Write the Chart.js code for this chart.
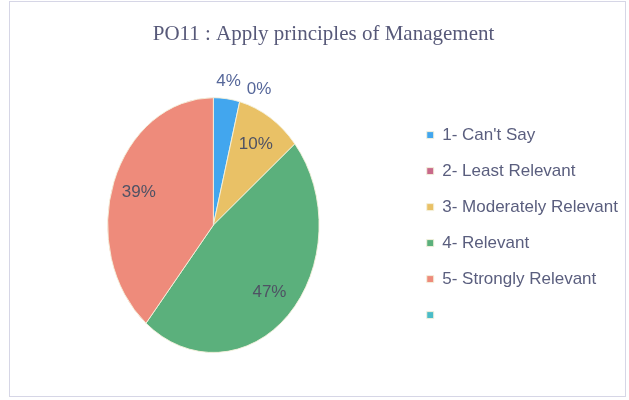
<!DOCTYPE html>
<html>
<head>
<meta charset="utf-8">
<script src="https://cdn.jsdelivr.net/npm/chart.js@4"></script>
<style>
    html, body { margin: 0; padding: 0; background: #ffffff; }
    #wrap { position: relative; width: 629px; height: 400px; }
    #frame {
        position: absolute; left: 9px; top: 1px; width: 615px; height: 394px;
        border: 1px solid #d6d6e6; pointer-events: none;
    }
</style>
</head>
<body>
<div id="wrap">
    <canvas id="poChart"></canvas>
    <div id="frame"></div>
</div>
<script>
// Данные диаграммы
const categories = ["1- Can't Say", "2- Least Relevant", "3- Moderately Relevant", "4- Relevant", "5- Strongly Relevant", ""];
const percentValues = [4, 0, 10, 47, 39, 0];
const sliceColors = ['#42a6ee', '#c8698a', '#e9c166', '#5bb07c', '#ee8b7b', '#4abcc8'];

const chartTitle = 'PO11 : Apply principles of Management';

// Круг в оригинале вытянут по вертикали (эллипс)
const pieScaleX = 0.83;

// Растягиваем пирог в эллипс
const ellipsePlugin = {
    id: 'ellipse',
    beforeDatasetsDraw(chart) {
        const arc = chart.getDatasetMeta(0).data[0];
        const ctx = chart.ctx;
        ctx.save();
        ctx.translate(arc.x, arc.y);
        ctx.scale(pieScaleX, 1);
        ctx.translate(-arc.x, -arc.y);
    },
    afterDatasetsDraw(chart) {
        chart.ctx.restore();
    }
};

// Подписи процентов
const percentLabels = {
    id: 'percentLabels',
    afterDraw(chart) {
        const ctx = chart.ctx;
        const meta = chart.getDatasetMeta(0);
        ctx.save();
        ctx.font = '17px "Liberation Sans", Arial, sans-serif';
        ctx.textAlign = 'center';
        ctx.textBaseline = 'middle';
        let prevRight = null;
        meta.data.forEach((arc, i) => {
            if (!categories[i]) return;
            const value = percentValues[i];
            const text = value + '%';
            const mid = (arc.startAngle + arc.endAngle) / 2;
            const outside = value < 5;
            const f = outside ? 1.14 : 0.75;
            let x = arc.x + Math.cos(mid) * arc.outerRadius * f * pieScaleX;
            let y = arc.y + Math.sin(mid) * arc.outerRadius * f;
            const w = ctx.measureText(text).width;
            if (outside) {
                // сдвигаем, чтобы подписи не налезали друг на друга
                if (prevRight !== null && x - w / 2 < prevRight + 6) {
                    x = prevRight + 6 + w / 2;
                    y += 5;
                }
                prevRight = x + w / 2;
                ctx.fillStyle = '#56679a';
            } else {
                ctx.fillStyle = '#4f5264';
            }
            ctx.fillText(text, x, y);
        });
        ctx.restore();
    }
};

const ctx = document.getElementById('poChart').getContext('2d');
const chart = new Chart(ctx, {
    type: 'pie',
    data: {
        labels: categories,
        datasets: [{
            data: percentValues,
            backgroundColor: sliceColors,
            borderColor: '#f4f1dc',
            borderWidth: 1
        }]
    },
    options: {
        responsive: true,
        maintainAspectRatio: false,
        animation: false,
        layout: {
            padding: { top: 10, bottom: 47, left: 19, right: 1 }
        },
        plugins: {
            title: {
                display: true,
                text: chartTitle,
                color: '#575979',
                font: { family: '"Liberation Serif", "Times New Roman", serif', size: 21, weight: 'normal' },
                padding: { top: 12, bottom: 50 }
            },
            legend: {
                position: 'right',
                fullSize: false,
                labels: {
                    boxWidth: 7,
                    boxHeight: 7,
                    padding: 19,
                    color: '#5a5e7e',
                    font: { family: '"Liberation Sans", Arial, sans-serif', size: 17 }
                }
            },
            tooltip: { enabled: false }
        }
    },
    plugins: [ellipsePlugin, percentLabels]
});
</script>
</body>
</html>
